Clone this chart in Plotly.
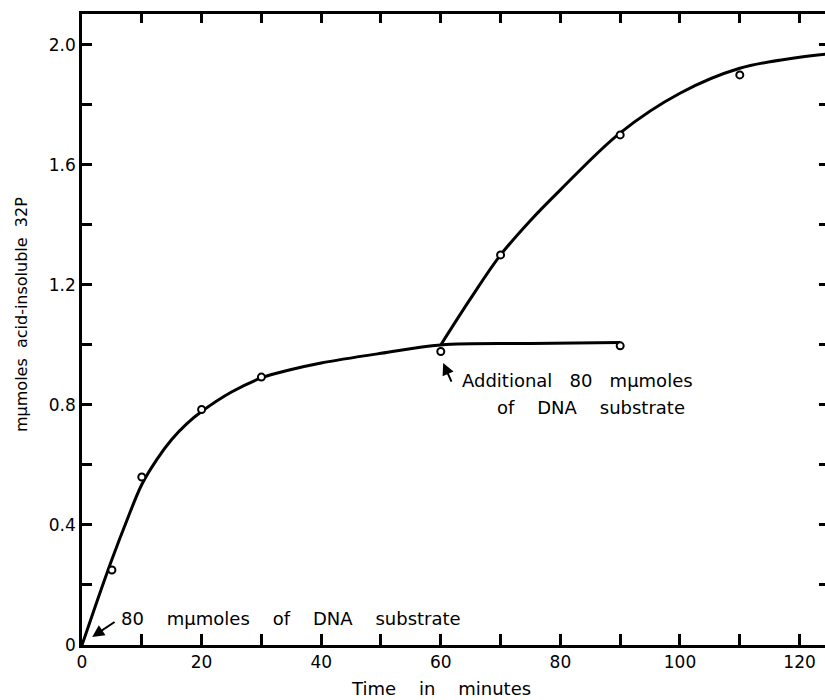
import plotly.graph_objects as go

# Measured points (open circles)
time_first = [5, 10, 20, 30, 60, 90]
value_first = [0.25, 0.56, 0.785, 0.893, 0.978, 0.997]
time_second = [70, 90, 110]
value_second = [1.30, 1.70, 1.90]

# Hand-drawn fitted curves
curve_first_x = [0, 2.5, 5, 7.5, 10, 12.5, 15, 17.5, 20, 25, 30, 35, 40, 50, 60, 75, 90]
curve_first_y = [0, 0.145, 0.285, 0.415, 0.535, 0.618, 0.685, 0.737, 0.778, 0.843, 0.89, 0.918, 0.94, 0.972, 1.0, 1.005, 1.008]
curve_second_x = [60, 65, 70, 75, 80, 90, 100, 110, 120, 124.3]
curve_second_y = [1.0, 1.155, 1.30, 1.415, 1.517, 1.707, 1.839, 1.922, 1.959, 1.969]

x_ticks = [0, 10, 20, 30, 40, 50, 60, 70, 80, 90, 100, 110, 120]
x_tick_labels = ["0", "", "20", "", "40", "", "60", "", "80", "", "100", "", "120"]
y_ticks = [0, 0.2, 0.4, 0.6, 0.8, 1.0, 1.2, 1.4, 1.6, 1.8, 2.0]
y_tick_labels = ["0", "", "0.4", "", "0.8", "", "1.2", "", "1.6", "", "2.0"]

FONT = "DejaVu Sans"
NB = "\u00a0"

W, H = 825, 700
L, R, T, B = 82, 0, 14, 55
pw, ph = W - L - R, H - T - B
X_RANGE = [0, 124.25]
Y_RANGE = [0, 2.103]

fig = go.Figure()
for cx, cy in [(curve_first_x, curve_first_y), (curve_second_x, curve_second_y)]:
    fig.add_trace(go.Scatter(x=cx, y=cy, mode="lines",
                             line=dict(color="black", width=3, shape="spline", smoothing=1.0),
                             hoverinfo="skip", showlegend=False))
for px_, py_ in [(time_first, value_first), (time_second, value_second)]:
    fig.add_trace(go.Scatter(x=px_, y=py_, mode="markers",
                             marker=dict(symbol="circle", size=7, color="white",
                                         line=dict(color="black", width=2)),
                             showlegend=False))
# empty trace so the top/right frame axes get drawn
fig.add_trace(go.Scatter(x=[], y=[], xaxis="x2", yaxis="y2", showlegend=False, hoverinfo="skip"))

ann_font = dict(family=FONT, size=18, color="black")
fig.add_annotation(x=6.2, y=0.09, xref="x", yref="y", xanchor="left", yanchor="middle",
                   text=(NB * 4).join(["80", "mμmoles", "of", "DNA", "substrate"]),
                   showarrow=False, font=ann_font)
fig.add_annotation(x=1.7, y=0.027, ax=5.7, ay=0.08, xref="x", yref="y", axref="x", ayref="y",
                   text="", showarrow=True, arrowhead=2, arrowsize=1.2, arrowwidth=2, arrowcolor="black")
fig.add_annotation(x=63.2, y=0.883, xref="x", yref="y", xanchor="left", yanchor="middle",
                   text=(NB * 3).join(["Additional", "80", "mμmoles"]),
                   showarrow=False, font=ann_font)
fig.add_annotation(x=69.1, y=0.793, xref="x", yref="y", xanchor="left", yanchor="middle",
                   text=(NB * 4).join(["of", "DNA", "substrate"]),
                   showarrow=False, font=ann_font)
fig.add_annotation(x=60.4, y=0.94, ax=61.9, ay=0.873, xref="x", yref="y", axref="x", ayref="y",
                   text="", showarrow=True, arrowhead=2, arrowsize=1.2, arrowwidth=2, arrowcolor="black")

# Axis titles (positioned from pixel measurements)
fig.add_annotation(x=(441 - L) / pw, y=(H - B - 688) / ph, xref="paper", yref="paper",
                   xanchor="center", yanchor="middle",
                   text=(NB * 4).join(["Time", "in", "minutes"]),
                   showarrow=False, font=dict(family=FONT, size=18, color="black"))
fig.add_annotation(x=(21 - L) / pw, y=(H - B - 315) / ph, xref="paper", yref="paper",
                   xanchor="center", yanchor="middle",
                   text=(NB * 2).join(["mμmoles", "acid-insoluble", "32P"]),
                   textangle=-90, showarrow=False, font=dict(family=FONT, size=16, color="black"))

frame = dict(showline=True, linecolor="black", linewidth=2.5, ticks="inside",
             tickwidth=2.5, tickcolor="#000000", showgrid=False, zeroline=False)

fig.update_layout(
    xaxis=dict(range=X_RANGE, tickmode="array", tickvals=x_ticks, ticktext=x_tick_labels,
               ticklen=11, automargin=False,
               tickfont=dict(family=FONT, size=17, color="black"), **frame),
    yaxis=dict(range=Y_RANGE, tickmode="array", tickvals=y_ticks, ticktext=y_tick_labels,
               ticklen=10, automargin=False,
               tickfont=dict(family=FONT, size=17, color="black"), **frame),
    xaxis2=dict(range=X_RANGE, overlaying="x", side="top", anchor="y2", tickmode="array",
                tickvals=x_ticks, ticklen=9, showticklabels=False, **frame),
    yaxis2=dict(range=Y_RANGE, overlaying="y", side="right", anchor="x2", tickmode="array",
                tickvals=y_ticks, ticklen=6, showticklabels=False, **frame),
)

fig.update_layout(width=W, height=H, margin=dict(l=L, r=R, t=T, b=B, autoexpand=False),
                  plot_bgcolor="white", paper_bgcolor="white", showlegend=False)

fig.write_html("out.html", config={"displayModeBar": False},
               post_script="document.body.style.margin='0';document.body.style.overflow='hidden';")
